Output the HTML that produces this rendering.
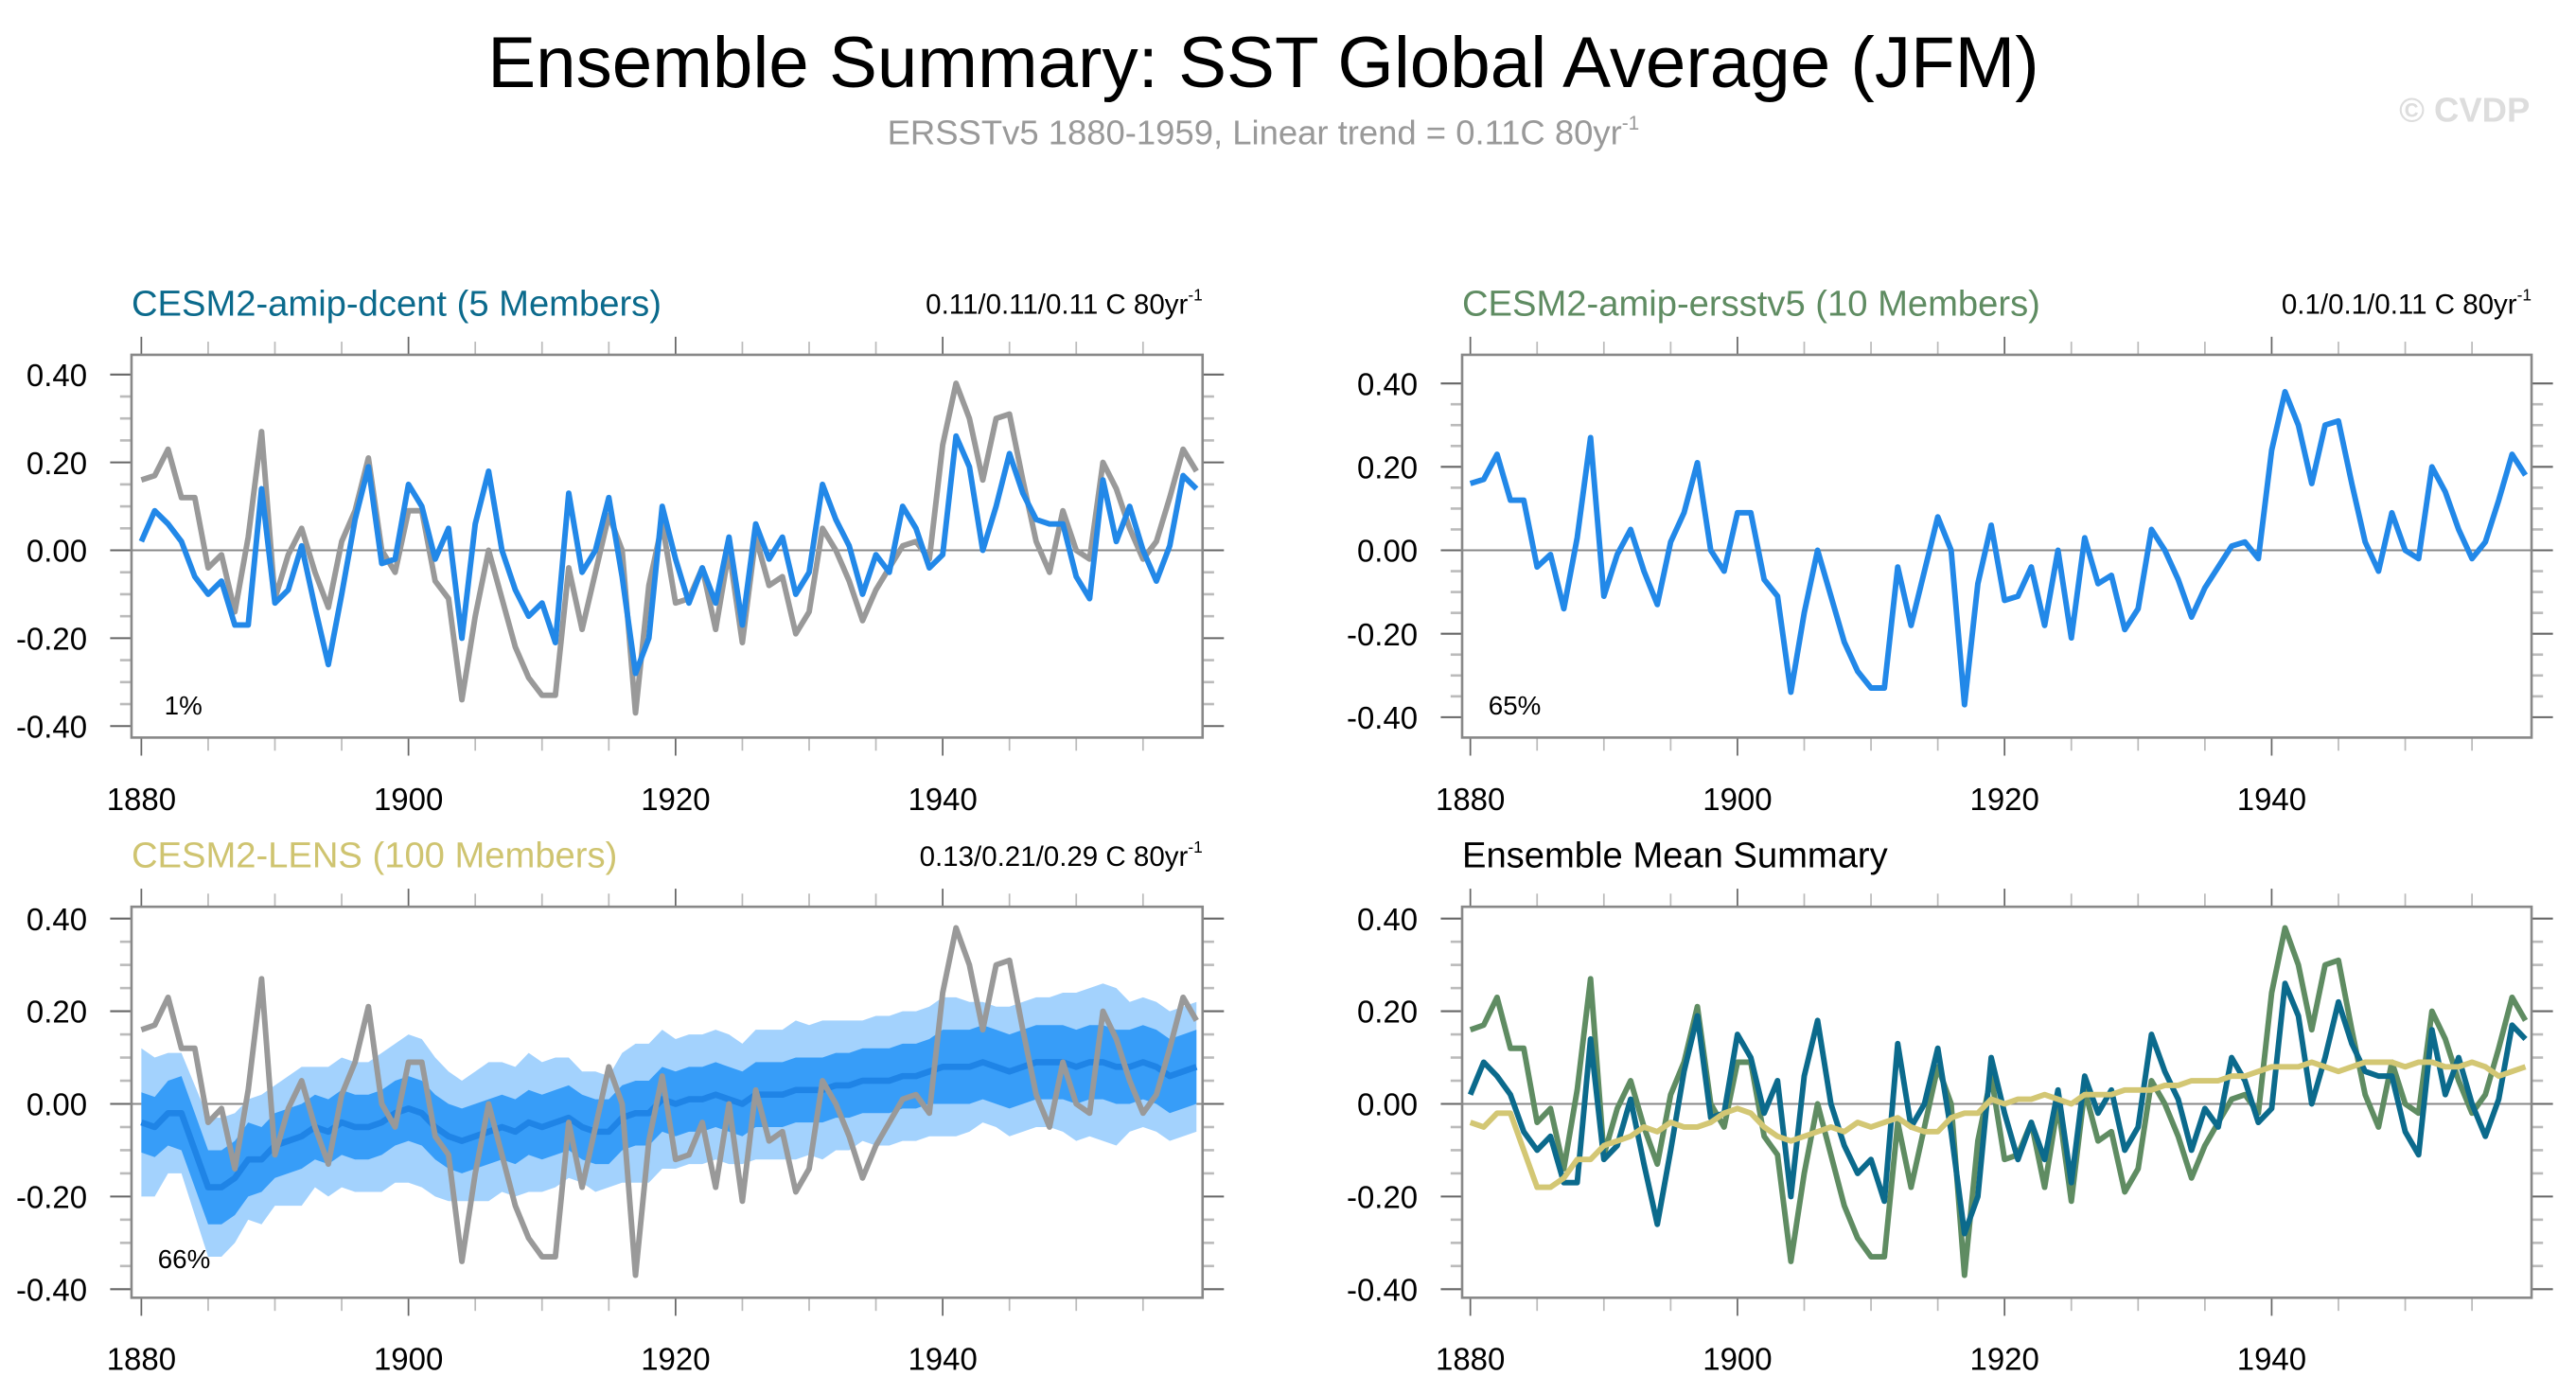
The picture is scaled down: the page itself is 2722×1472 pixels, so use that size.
<!DOCTYPE html>
<html><head><meta charset="utf-8"><style>
html,body{margin:0;padding:0;background:#fff;}
svg{display:block;font-family:"Liberation Sans",Arial,sans-serif;}
</style></head><body>
<svg id="fig" width="2722" height="1472" viewBox="0 0 1568 848" xmlns="http://www.w3.org/2000/svg">
<text x="769" y="53" font-size="44" text-anchor="middle" fill="#000">Ensemble Summary: SST Global Average (JFM)</text>
<text x="769" y="88" font-size="21" text-anchor="middle" fill="#999">ERSSTv5 1880-1959, Linear trend = 0.11C 80yr<tspan font-size="12" dy="-9">-1</tspan></text>
<text x="1540" y="74" font-size="21" text-anchor="end" fill="#ddd" font-weight="bold">© CVDP</text>
<g id="layer"></g>
</svg>
<script>
const years = [];
for (let y = 1880; y <= 1959; y++) years.push(y);
const ersst = [0.16,0.17,0.23,0.12,0.12,-0.04,-0.01,-0.14,0.03,0.27,-0.11,-0.01,0.05,-0.05,-0.13,0.02,0.09,0.21,0.00,-0.05,
0.09,0.09,-0.07,-0.11,-0.34,-0.15,0.00,-0.11,-0.22,-0.29,-0.33,-0.33,-0.04,-0.18,-0.05,0.08,0.00,-0.37,-0.08,0.06,
-0.12,-0.11,-0.04,-0.18,0.00,-0.21,0.03,-0.08,-0.06,-0.19,-0.14,0.05,0.00,-0.07,-0.16,-0.09,-0.04,0.01,0.02,-0.02,
0.24,0.38,0.30,0.16,0.30,0.31,0.16,0.02,-0.05,0.09,0.00,-0.02,0.20,0.14,0.05,-0.02,0.02,0.12,0.23,0.18];
const dcent = [0.02,0.09,0.06,0.02,-0.06,-0.10,-0.07,-0.17,-0.17,0.14,-0.12,-0.09,0.01,-0.13,-0.26,-0.10,0.07,0.19,-0.03,-0.02,
0.15,0.10,-0.02,0.05,-0.20,0.06,0.18,0.00,-0.09,-0.15,-0.12,-0.21,0.13,-0.05,0.00,0.12,-0.06,-0.28,-0.20,0.10,
-0.02,-0.12,-0.04,-0.12,0.03,-0.17,0.06,-0.02,0.03,-0.10,-0.05,0.15,0.07,0.01,-0.10,-0.01,-0.05,0.10,0.05,-0.04,
-0.01,0.26,0.19,0.00,0.10,0.22,0.13,0.07,0.06,0.06,-0.06,-0.11,0.16,0.02,0.10,0.00,-0.07,0.01,0.17,0.14];
const lensMean = [-0.04,-0.05,-0.02,-0.02,-0.10,-0.18,-0.18,-0.16,-0.12,-0.12,-0.09,-0.08,-0.07,-0.05,-0.06,-0.04,-0.05,-0.05,-0.04,-0.02,
-0.01,-0.02,-0.05,-0.07,-0.08,-0.07,-0.06,-0.05,-0.06,-0.04,-0.05,-0.04,-0.03,-0.05,-0.06,-0.06,-0.03,-0.02,-0.02,0.01,
0.00,0.01,0.01,0.02,0.01,0.00,0.02,0.02,0.02,0.03,0.03,0.03,0.04,0.04,0.05,0.05,0.05,0.06,0.06,0.07,
0.08,0.08,0.08,0.09,0.08,0.07,0.08,0.09,0.09,0.09,0.08,0.09,0.09,0.08,0.08,0.09,0.08,0.06,0.07,0.08];
const innerHalf = [0.065,0.065,0.07,0.08,0.08,0.08,0.08,0.08,0.08,0.07,0.07,0.07,0.07,0.07,0.07,0.07,0.07,0.07,0.07,0.07,
0.07,0.07,0.07,0.07,0.07,0.07,0.07,0.07,0.07,0.07,0.07,0.07,0.07,0.07,0.07,0.07,0.07,0.07,0.07,0.07,
0.07,0.07,0.07,0.07,0.07,0.07,0.07,0.07,0.07,0.07,0.07,0.07,0.07,0.07,0.07,0.07,0.07,0.07,0.07,0.07,
0.08,0.08,0.08,0.08,0.08,0.08,0.08,0.08,0.08,0.08,0.08,0.08,0.08,0.08,0.08,0.08,0.08,0.08,0.08,0.08];
const outerHalf = [0.16,0.15,0.13,0.13,0.14,0.15,0.15,0.14,0.13,0.14,0.13,0.14,0.15,0.13,0.14,0.14,0.14,0.14,0.15,0.15,
0.16,0.16,0.15,0.14,0.13,0.14,0.15,0.14,0.14,0.15,0.14,0.14,0.13,0.12,0.13,0.12,0.14,0.15,0.15,0.15,
0.14,0.14,0.14,0.14,0.14,0.13,0.14,0.14,0.14,0.15,0.14,0.15,0.14,0.14,0.13,0.14,0.14,0.14,0.14,0.14,
0.15,0.15,0.14,0.13,0.13,0.14,0.14,0.14,0.14,0.15,0.16,0.16,0.17,0.17,0.14,0.14,0.14,0.14,0.14,0.14];
const yTickLabels = ["0.40","0.20","0.00","-0.20","-0.40"];
const yTickValues = [0.4,0.2,0,-0.2,-0.4];
const xTickValues = [1880,1900,1920,1940];

const NS = "http://www.w3.org/2000/svg";
const layer = document.getElementById('layer');
function el(tag, attrs, parent) {
  const e = document.createElementNS(NS, tag);
  for (const k in attrs) e.setAttribute(k, attrs[k]);
  (parent || layer).appendChild(e);
  return e;
}
function makePanel(p) {
  const g = el('g', {});
  
  
  const xs = v => p.x0 + (v - 1880) * p.xs;
  const ys = v => p.yz - v * p.ys;
  p.xf = xs; p.yf = ys;
  const t = el('text', {x: p.left, y: p.titleY, 'font-size': 22, fill: p.titleColor}, g);
  t.textContent = p.title;
  
  
  if (p.trend) {
    const tr = el('text', {x: p.right, y: p.titleY - 1, 'font-size': 17, 'text-anchor': 'end', fill: '#000'}, g);
    tr.textContent = p.trend;
    const sup = el('tspan', {'font-size': 10, dy: -8}, tr);
    sup.textContent = '-1';
    
    
  }
  const z = el('line', {x1: p.left, x2: p.right, y1: ys(0), y2: ys(0), stroke: '#888', 'stroke-width': 1.2}, g);
  
  
  const plot = el('g', {}, g);
  for (let v = -0.4; v <= 0.4001; v += 0.05) {
    const major = Math.abs(Math.round(v * 100) % 20) === 0;
    const L = major ? 13 : 7;
    const yy = ys(v);
    if (yy < p.top - 0.5 || yy > p.bottom + 0.5) continue;
    el('line', {x1: p.left - L, x2: p.left, y1: yy, y2: yy, stroke: major ? '#666' : '#bbb', 'stroke-width': major ? 1.2 : 1.5}, g);
    el('line', {x1: p.right, x2: p.right + L, y1: yy, y2: yy, stroke: major ? '#666' : '#bbb', 'stroke-width': major ? 1.2 : 1.5}, g);
  }
  yTickValues.forEach((v, i) => {
    const lb = el('text', {x: p.left - 27, y: ys(v) + 7, 'font-size': 19, 'text-anchor': 'end', fill: '#000'}, g);
    lb.textContent = yTickLabels[i];
    
    
  });
  for (let yr = 1880; yr <= 1959; yr += 5) {
    const major = yr % 20 === 0;
    const L = major ? 11 : 8;
    el('line', {x1: xs(yr), x2: xs(yr), y1: p.top - L, y2: p.top, stroke: major ? '#666' : '#bbb', 'stroke-width': 1}, g);
    el('line', {x1: xs(yr), x2: xs(yr), y1: p.bottom, y2: p.bottom + L, stroke: major ? '#666' : '#bbb', 'stroke-width': 1}, g);
  }
  xTickValues.forEach(v => {
    const lb = el('text', {x: xs(v), y: p.bottom + 44, 'font-size': 19, 'text-anchor': 'middle', fill: '#000'}, g);
    lb.textContent = String(v);
    
    
  });
  const box = el('rect', {x: p.left, y: p.top, width: p.right - p.left, height: p.bottom - p.top, fill: 'none', stroke: '#888', 'stroke-width': 1.5}, g);
  
  
  if (p.pct) {
    const pc = el('text', {x: p.pctX, y: p.pctY, 'font-size': 16, fill: '#000'}, g);
    pc.textContent = p.pct;
    
    
  }
  p.plot = plot;
  return p;
}
function line(p, vals, color, w, name) {
  const d = vals.map((v, i) => (i ? 'L' : 'M') + p.xf(years[i]).toFixed(2) + ',' + p.yf(v).toFixed(2)).join('');
  const e = el('path', {d: d, fill: 'none', stroke: color, 'stroke-width': w, 'stroke-linejoin': 'round'}, p.plot);
  
  
}
function band(p, half, color, name) {
  const up = lensMean.map((m, i) => p.xf(years[i]).toFixed(2) + ',' + p.yf(m + half[i]).toFixed(2));
  const dn = lensMean.map((m, i) => p.xf(years[i]).toFixed(2) + ',' + p.yf(m - half[i]).toFixed(2)).reverse();
  const e = el('polygon', {points: up.concat(dn).join(' '), fill: color, stroke: 'none'}, p.plot);
  
  
}

const p1 = makePanel({name: 'panel-cesm2-amip-dcent', left: 80, right: 732, top: 216, bottom: 449, x0: 86, xs: 8.13, yz: 335, ys: 267.5,
  title: 'CESM2-amip-dcent (5 Members)', titleColor: '#0b6a8c', titleY: 192, trend: '0.11/0.11/0.11 C 80yr', pct: '1%', pctX: 100, pctY: 435});
line(p1, ersst, '#999', 3.4, 'ersst-line');
line(p1, dcent, '#2288e8', 3.4, 'dcent-mean-line');

const p2 = makePanel({name: 'panel-cesm2-amip-ersstv5', left: 890, right: 1541, top: 216, bottom: 449, x0: 895, xs: 8.13, yz: 335, ys: 254,
  title: 'CESM2-amip-ersstv5 (10 Members)', titleColor: '#5f8c62', titleY: 192, trend: '0.1/0.1/0.11 C 80yr', pct: '65%', pctX: 906, pctY: 435});
line(p2, ersst, '#2288e8', 3.4, 'ersstv5-mean-line');

const p3 = makePanel({name: 'panel-cesm2-lens', left: 80, right: 732, top: 552, bottom: 790, x0: 86, xs: 8.13, yz: 672, ys: 282,
  title: 'CESM2-LENS (100 Members)', titleColor: '#cfc470', titleY: 528, trend: '0.13/0.21/0.29 C 80yr', pct: '66%', pctX: 96, pctY: 772});
band(p3, outerHalf, '#a3d2fd', 'lens-outer-spread');
band(p3, innerHalf, '#379df8', 'lens-inner-spread');
line(p3, lensMean, '#1f84e6', 3.8, 'lens-mean-line');
line(p3, ersst, '#999', 3.4, 'ersst-line');

const p4 = makePanel({name: 'panel-ensemble-mean-summary', left: 890, right: 1541, top: 552, bottom: 790, x0: 895, xs: 8.13, yz: 672, ys: 282,
  title: 'Ensemble Mean Summary', titleColor: '#000', titleY: 528});
line(p4, ersst, '#5f8c62', 3.4, 'ersstv5-mean-line');
line(p4, dcent, '#0b6a8c', 3.4, 'dcent-mean-line');
line(p4, lensMean, '#d3c774', 3.4, 'lens-mean-line');
</script>
</body></html>
